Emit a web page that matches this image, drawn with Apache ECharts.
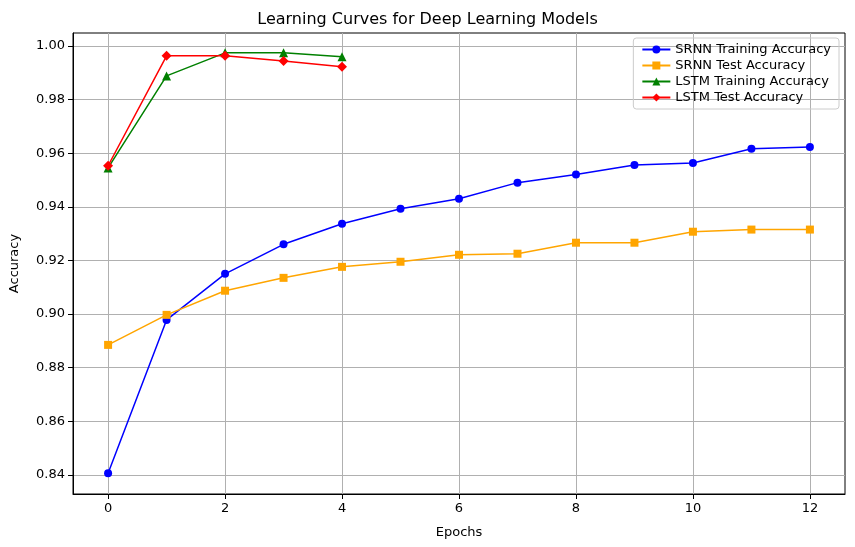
<!DOCTYPE html>
<html>
<head>
<meta charset="utf-8">
<script src="https://cdn.jsdelivr.net/npm/echarts@6/dist/echarts.min.js"></script>
<style>html,body{margin:0;padding:0;background:#fff}#chart{width:855px;height:547px}</style>
</head>
<body>
<div id="chart"></div>
<script>
var epochs = [0, 1, 2, 3, 4, 5, 6, 7, 8, 9, 10, 11, 12];
var srnnTrain = [0.8406, 0.8978, 0.915, 0.926, 0.9337, 0.9393, 0.943, 0.949, 0.952, 0.9556, 0.9563, 0.9616, 0.9623];
var srnnTest = [0.8885, 0.8997, 0.9087, 0.9135, 0.9176, 0.9195, 0.9221, 0.9225, 0.9266, 0.9266, 0.9307, 0.9315, 0.9315];
var lstmTrain = [0.9545, 0.9888, 0.9974, 0.9974, 0.9959];
var lstmTest = [0.9553, 0.9963, 0.9963, 0.9944, 0.9922];
var xTicks = [0, 2, 4, 6, 8, 10, 12];
var yTicks = [0.84, 0.86, 0.88, 0.90, 0.92, 0.94, 0.96, 0.98, 1.00];

function pairs(vals) {
  return vals.map(function (v, i) { return [epochs[i], v]; });
}
function mk(name, vals, color, symbol, size) {
  return {
    name: name, type: 'line', data: pairs(vals), symbol: symbol, symbolSize: size,
    itemStyle: { color: color }, lineStyle: { color: color, width: 1.5 }
  };
}

var chart = echarts.init(document.getElementById('chart'));
var txt = { color: '#000', fontFamily: 'DejaVu Sans', fontSize: 13 };
chart.setOption({
  animation: false,
  title: {
    text: 'Learning Curves for Deep Learning Models', left: 'center', top: 7,
    textStyle: { color: '#000', fontFamily: 'DejaVu Sans', fontSize: 16, fontWeight: 'normal' }
  },
  legend: {
    orient: 'vertical', right: 16, top: 38, itemGap: 3, itemWidth: 28, itemHeight: 10,
    borderColor: '#ccc', borderWidth: 1, borderRadius: 3, padding: [5, 8],
    textStyle: txt,
    data: ['SRNN Training Accuracy', 'SRNN Test Accuracy', 'LSTM Training Accuracy', 'LSTM Test Accuracy']
  },
  grid: { left: 70, right: 10, top: 33, bottom: 53, show: true, borderColor: '#000', borderWidth: 1 },
  xAxis: {
    type: 'value', min: -0.6, max: 12.6,
    name: 'Epochs', nameLocation: 'middle', nameGap: 32, nameTextStyle: txt,
    axisLine: { onZero: false, lineStyle: { color: '#000' } },
    axisTick: { customValues: xTicks, lineStyle: { color: '#000' } },
    axisLabel: { customValues: xTicks, color: '#000', fontFamily: 'DejaVu Sans', fontSize: 13 },
    splitLine: { show: true, lineStyle: { color: '#b0b0b0' } }
  },
  yAxis: {
    type: 'value', min: 0.8329, max: 1.0048,
    name: 'Accuracy', nameLocation: 'middle', nameGap: 52, nameTextStyle: txt,
    axisLine: { show: true, onZero: false, lineStyle: { color: '#000' } },
    axisTick: { show: true, customValues: yTicks, lineStyle: { color: '#000' } },
    axisLabel: {
      customValues: yTicks, color: '#000', fontFamily: 'DejaVu Sans', fontSize: 13,
      formatter: function (v) { return v.toFixed(2); }
    },
    splitLine: { show: true, lineStyle: { color: '#b0b0b0' } }
  },
  series: [
    mk('SRNN Training Accuracy', srnnTrain, '#0000ff', 'circle', 8),
    mk('SRNN Test Accuracy', srnnTest, '#ffa500', 'rect', 8),
    mk('LSTM Training Accuracy', lstmTrain, '#008000', 'triangle', 9),
    mk('LSTM Test Accuracy', lstmTest, '#ff0000', 'diamond', 10)
  ]
});
</script>
</body>
</html>
